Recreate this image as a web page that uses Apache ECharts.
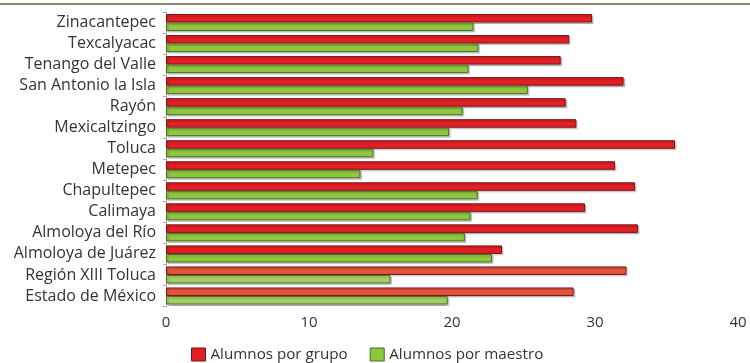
<!DOCTYPE html>
<html><head><meta charset="utf-8">
<script src="https://cdn.jsdelivr.net/npm/echarts@6/dist/echarts.min.js"></script>
<style>html,body{margin:0;padding:0;background:#fff}#c{width:750px;height:363px}</style>
</head><body><div id="c"></div>
<script>
const categories = ["Zinacantepec","Texcalyacac","Tenango del Valle","San Antonio la Isla","Rayón","Mexicaltzingo","Toluca","Metepec","Chapultepec","Calimaya","Almoloya del Río","Almoloya de Juárez","Región XIII Toluca","Estado de México"];
const alumnosPorGrupo = [29.8, 28.2, 27.6, 32.0, 27.95, 28.7, 35.6, 31.4, 32.8, 29.3, 33.0, 23.5, 32.2, 28.5];
const alumnosPorMaestro = [21.5, 21.85, 21.15, 25.3, 20.75, 19.8, 14.5, 13.6, 21.8, 21.3, 20.9, 22.8, 15.7, 19.7];
const xTicks = [0, 10, 20, 30, 40];

const FONT = "Open Sans";
const chart = echarts.init(document.getElementById('c'), null, {renderer:'canvas'});
const shadow = {shadowColor:'rgba(0,0,0,0.2)', shadowOffsetX:1.5, shadowOffsetY:1.5, shadowBlur:1};
chart.setOption({
  animation:false,
  textStyle:{fontFamily:FONT},
  graphic:[{type:'line', shape:{x1:0,y1:4,x2:750,y2:4}, style:{stroke:'#8c8373', lineWidth:2}}],
  grid:{left:166, right:12, top:12, bottom:56.5, containLabel:false},
  legend:{
    left:186, top:342, itemWidth:14, itemHeight:13, itemGap:22, icon:'rect',
    textStyle:{fontSize:15.2, color:'#333', fontFamily:FONT},
    data:[
      {name:'Alumnos por grupo', itemStyle:{color:'#e31e24', borderColor:'#7a1416', borderWidth:1}},
      {name:'Alumnos por maestro', itemStyle:{color:'#8dc63f', borderColor:'#4d6e22', borderWidth:1}}
    ]
  },
  xAxis:{
    type:'value', min:xTicks[0], max:xTicks[xTicks.length-1], interval:10,
    axisLine:{show:false}, axisTick:{show:false}, splitLine:{show:false},
    axisLabel:{fontSize:15, color:'#333', margin:9, fontFamily:FONT}
  },
  yAxis:{
    type:'category', data:categories, inverse:true,
    axisLine:{show:true, lineStyle:{color:'#aaaaaa', width:1}},
    axisTick:{show:true, length:3, lineStyle:{color:'#aaaaaa'}},
    axisLabel:{fontSize:16, color:'#333', margin:10, fontFamily:FONT}
  },
  series:[
    {name:'Alumnos por grupo', type:'bar', data:alumnosPorGrupo, barGap:'0%', barCategoryGap:'19%',
     itemStyle:Object.assign({borderColor:'#7a1416', borderWidth:1,
       color:p => p.dataIndex >= 12 ? '#e5533d' : '#e31e24'}, shadow)},
    {name:'Alumnos por maestro', type:'bar', data:alumnosPorMaestro, barGap:'0%', barCategoryGap:'19%',
     itemStyle:Object.assign({borderColor:'#4d6e22', borderWidth:1,
       color:p => p.dataIndex >= 12 ? '#a4cf65' : '#8dc63f'}, shadow)}
  ]
});
</script></body></html>
